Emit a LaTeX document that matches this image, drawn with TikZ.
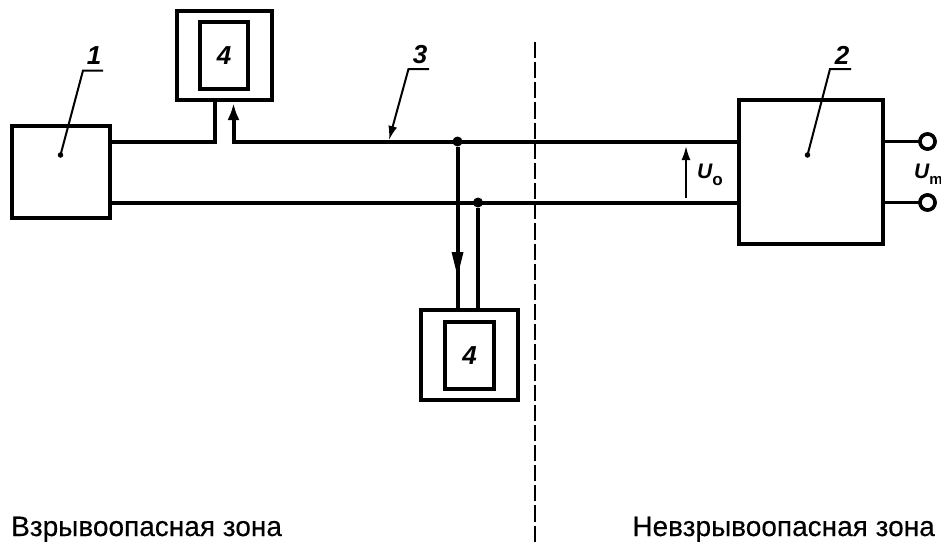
\documentclass[tikz,border=0pt]{standalone}
\usepackage{fontspec}
\setmainfont{Liberation Sans}
\newfontfamily\zonefont[FakeBold=0.25]{Liberation Sans}
\usetikzlibrary{arrows.meta,calc}
\tikzset{
  blockbox/.style={draw=black,line width=4pt,fill=white,inner sep=0pt,outer sep=0pt},
  wire/.style={line width=4pt,line cap=butt},
  thinwire/.style={line width=3pt},
  leader/.style={line width=2pt},
  jdot/.style={circle,fill=black,inner sep=0pt,minimum size=10pt,outer sep=0pt},
  leaddot/.style={circle,fill=black,inner sep=0pt,minimum size=5.5pt,outer sep=0pt},
  term/.style={circle,draw=black,line width=3.5pt,fill=white,inner sep=0pt,minimum size=15pt,outer sep=0pt},
  numlabel/.style={font=\fontsize{26}{26}\selectfont\itshape\bfseries,inner sep=0pt},
  sym/.style={font=\fontsize{21}{21}\selectfont\itshape\bfseries,inner sep=0pt},
  zone/.style={font=\fontsize{28}{28}\zonefont\selectfont,inner sep=0pt,anchor=base west},
}
\begin{document}
\begin{tikzpicture}[x=1pt,y=-1pt]
\useasboundingbox (0,0) rectangle (941,542);
% blocks
\node[blockbox,minimum width=98pt,minimum height=92pt] (b1) at (61,172) {};
\node[blockbox,minimum width=144pt,minimum height=144pt] (b2) at (811,172) {};
\node[blockbox,minimum width=95pt,minimum height=89pt] (top4o) at (224.5,55.5) {};
\node[blockbox,minimum width=48pt,minimum height=67pt] (top4i) at (224,55.5) {};
\node[numlabel] at (top4i.center) {4};
\node[blockbox,minimum width=97pt,minimum height=90pt] (low4o) at (469.5,355) {};
\node[blockbox,minimum width=49pt,minimum height=67pt] (low4i) at (469.5,355.5) {};
\node[numlabel] at (low4i.center) {4};
% helper points
\coordinate (tl) at (215,141.5);
\coordinate (tr) at (233.5,141.5);
\coordinate (tlup) at (215,100);
\coordinate (trup) at (233.5,103);
\node[jdot] (j1) at (457.5,141.5) {};
\node[jdot] (j2) at (478,202.5) {};
\node[term] (t1) at (927.5,141.5) {};
\node[term] (t2) at (927.5,202.5) {};
% wires
\draw[wire,line join=miter] (b1.east |- tl) -- (tl) -- (tlup);
\draw[wire] (tr) -- (b2.west |- tr);
\draw[wire,-{Latex[length=17pt,width=12pt]}] ($(tr)+(0,2)$) -- (trup);
\draw[wire] (b1.east |- j2) -- (b2.west |- j2);
\draw[wire] (j1) -- (j1 |- low4o.north);
\path[fill=black] (451.5,252) -- (463.5,252) -- (457.5,276) -- cycle;
\draw[wire] (j2) -- (j2 |- low4o.north);
\draw[thinwire] (b2.east |- t1) -- (t1);
\draw[thinwire] (b2.east |- t2) -- (t2);
\node[term] at (t1) {};
\node[term] at (t2) {};
% zone boundary
\coordinate (zt) at (535,42);
\coordinate (zb) at (535,542);
\draw[line width=2pt,dash pattern=on 16.15pt off 4pt] (zt) -- (zb);
% U_o arrow
\coordinate (uob) at (686,198);
\coordinate (uot) at (686,146);
\draw[line width=2pt,-{Latex[length=14pt,width=9pt]}] (uob) -- (uot);
\node[sym,anchor=base west] (uo) at (697,178) {U\raisebox{-7pt}{\fontsize{17}{17}\selectfont\upshape o}};
\node[sym,anchor=base west] (um) at (914,178) {U\raisebox{-6pt}{\fontsize{15}{15}\selectfont\upshape m}};
% leaders
\node[leaddot] (d1) at (60.5,155) {};
\coordinate (e1) at (83,70.5);
\coordinate (f1) at (103,70.5);
\draw[leader] (d1.center) -- (e1) -- (f1);
\node[numlabel] (n1) at (94,56) {1};
\node[leaddot] (d2) at (807.5,155) {};
\coordinate (e2) at (830,69);
\coordinate (f2) at (851,69);
\draw[leader] (d2.center) -- (e2) -- (f2);
\node[numlabel] (n2) at (842,55) {2};
\coordinate (a3) at (389,140);
\coordinate (e3) at (408.5,69);
\coordinate (f3) at (429,69);
\draw[leader,-{Latex[length=14pt,width=9pt]}] (f3) -- (e3) -- (a3);
\node[numlabel] (n3) at (420,55) {3};
% zone captions
\node[zone] (zl) at (11,536) {Взрывоопасная зона};
\node[zone,anchor=base east] (zr) at (935,536) {Невзрывоопасная зона};
\end{tikzpicture}
\end{document}
